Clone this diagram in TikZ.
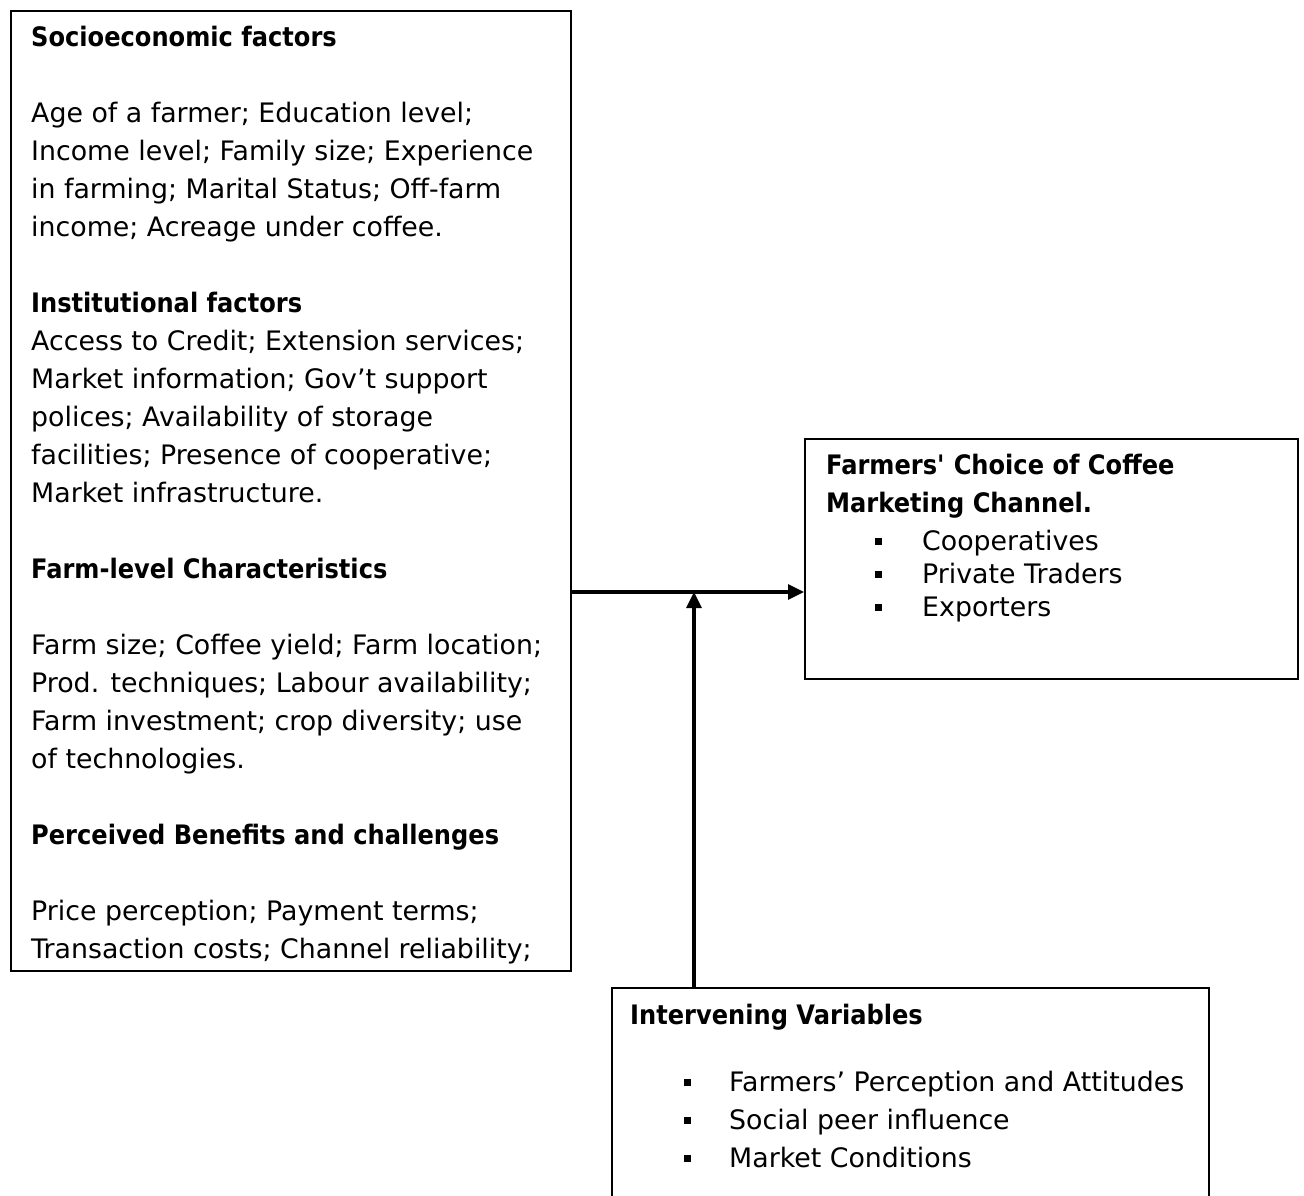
\documentclass[tikz,border=0pt]{standalone}
\usepackage{fontspec}
\setmainfont{DejaVu Sans}[BoldFeatures={FakeStretch=0.9}]
\usetikzlibrary{arrows.meta}

\newcommand{\sqbullet}{\rule[5.5pt]{7pt}{7pt}}

\begin{document}
\begin{tikzpicture}[x=1pt,y=-1pt,
	box/.style={draw=BLACK, line width=2, inner sep=0, anchor=north west},
	body/.style={font=\fontsize{26.8}{38}\selectfont, BLACK, anchor=north west, align=left, inner sep=0},
	link/.style={BLACK, line width=3.2, -{Triangle[length=16pt,width=15pt]}}]
	\definecolor{BLACK}{RGB}{0,0,0}
	\path[use as bounding box, clip] (0,0) rectangle (1304,1195);
	% boxes
	\node[box, minimum width=560, minimum height=960] (factors) at (10,10) {};
	\node[box, minimum width=493, minimum height=240] (choice) at (804,438) {};
	\node[box, minimum width=597, minimum height=260] (inter) at (611,987) {};
	% texts
	\node[body] (factorstext) at (31,19)
	{\rule{0pt}{27pt}\textbf{Socioeconomic factors}\\[38pt]
	Age of a farmer; Education level;\\
	Income level; Family size; Experience\\
	in farming; Marital Status; Off-farm\\
	income; Acreage under coffee.\\[38pt]
	\textbf{Institutional factors}\\
	Access to Credit; Extension services;\\
	Market information; Gov’t support\\
	polices; Availability of storage\\
	facilities; Presence of cooperative;\\
	Market infrastructure.\\[38pt]
	\textbf{Farm-level Characteristics}\\[38pt]
	Farm size; Coffee yield; Farm location;\\
	Prod. techniques; Labour availability;\\
	Farm investment; crop diversity; use\\
	of technologies.\\[38pt]
	\textbf{Perceived Benefits and challenges}\\[38pt]
	Price perception; Payment terms;\\
	Transaction costs; Channel reliability;};
	\node[body, font=\fontsize{26.8}{33}\selectfont] (choicetext) at (826,447)
	{\rule{0pt}{27pt}\textbf{Farmers\textquotesingle{} Choice of Coffee}\\[5pt]
	\textbf{Marketing Channel.}\\[5pt]
	\hspace*{49pt}\sqbullet\hspace{40pt}Cooperatives\\
	\hspace*{49pt}\sqbullet\hspace{40pt}Private Traders\\
	\hspace*{49pt}\sqbullet\hspace{40pt}Exporters};
	\node[body] (intertext) at (630,997)
	{\rule{0pt}{27pt}\textbf{Intervening Variables}\\[29pt]
	\hspace*{54pt}\sqbullet\hspace{38pt}Farmers’ Perception and Attitudes\\
	\hspace*{54pt}\sqbullet\hspace{38pt}Social peer influence\\
	\hspace*{54pt}\sqbullet\hspace{38pt}Market Conditions};
	% arrows
	\coordinate (join) at (694,592);
	\draw[link] (factors.east |- join) -- (choice.west |- join);
	\draw[link] (inter.north -| join) -- (join);
\end{tikzpicture}
\end{document}
